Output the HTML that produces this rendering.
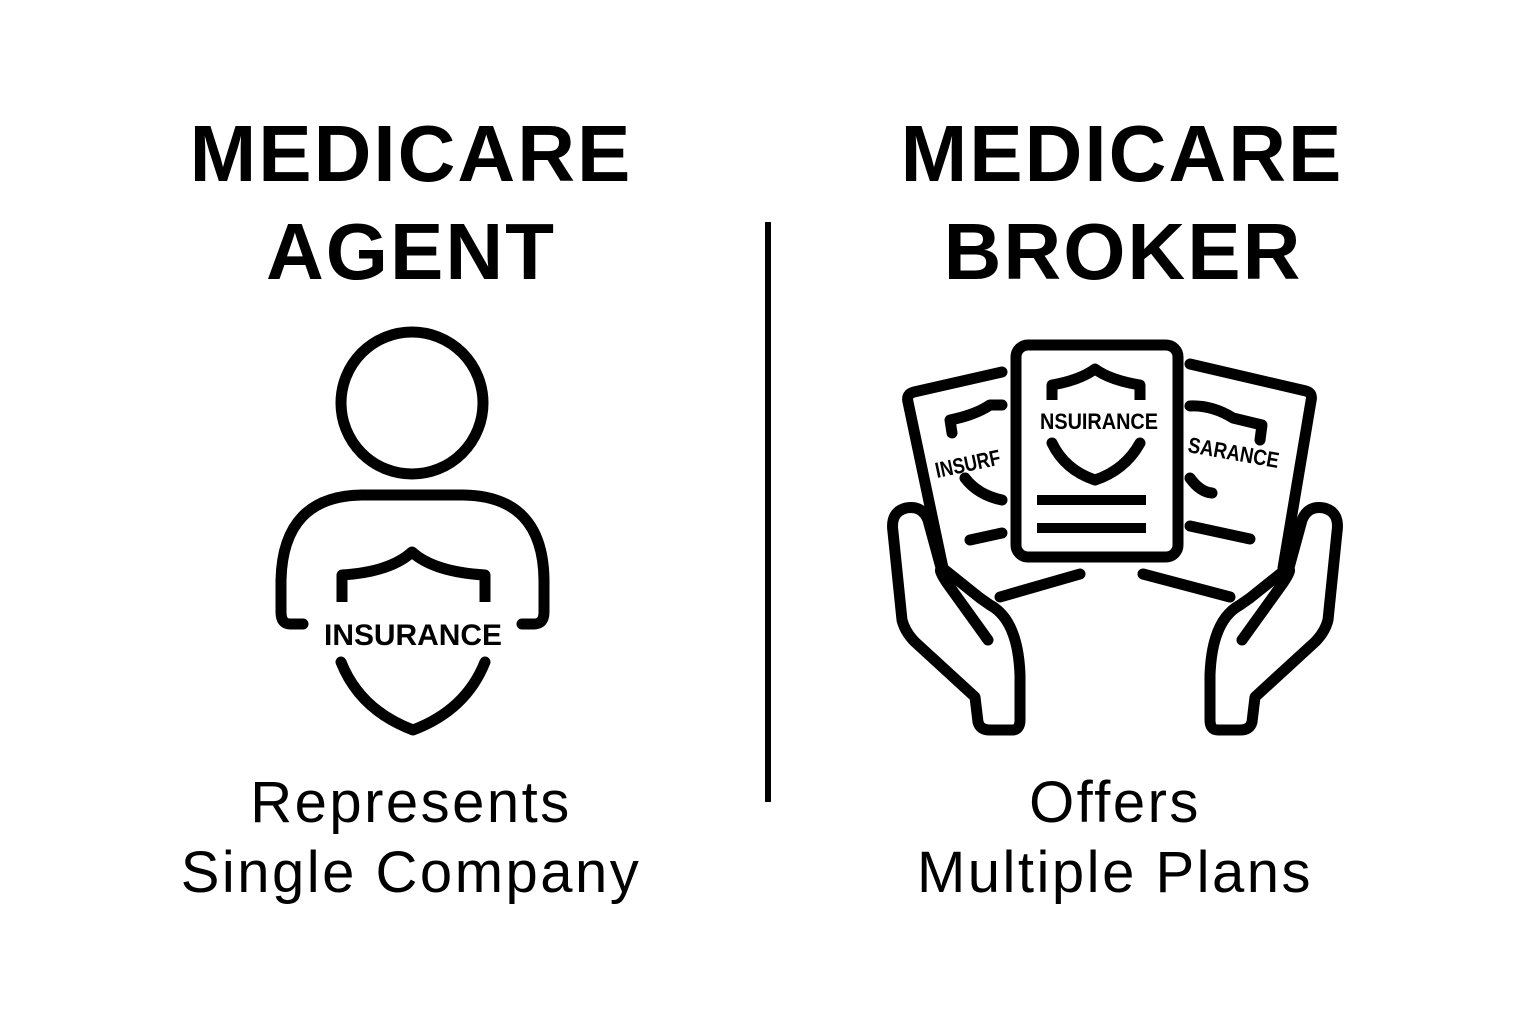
<!DOCTYPE html>
<html><head><meta charset="utf-8"><style>
html,body{margin:0;padding:0;background:#fff;}
svg{display:block;}
.h{font-family:"Liberation Sans",sans-serif;font-weight:bold;font-size:80px;fill:#000;letter-spacing:2px}
.s{font-family:"Liberation Sans",sans-serif;font-size:58px;fill:#000;letter-spacing:2.5px}
.ins{font-family:"Liberation Sans",sans-serif;font-weight:bold;fill:#000}
</style></head><body>
<svg width="1536" height="1024" viewBox="0 0 1536 1024" xmlns="http://www.w3.org/2000/svg">
<rect width="1536" height="1024" fill="#fff"/>
<text class="h" x="411" y="181" text-anchor="middle">MEDICARE</text>
<text class="h" x="411" y="279" text-anchor="middle" letter-spacing="1">AGENT</text>
<text class="h" x="1122" y="181" text-anchor="middle">MEDICARE</text>
<text class="h" x="1123" y="279" text-anchor="middle" letter-spacing="0">BROKER</text>
<rect x="765" y="222" width="6" height="580" fill="#000"/>
<text class="s" x="411" y="822" text-anchor="middle">Represents</text>
<text class="s" x="411" y="892" text-anchor="middle">Single Company</text>
<text class="s" x="1115" y="822" text-anchor="middle">Offers</text>
<text class="s" x="1115" y="892" text-anchor="middle">Multiple Plans</text>

<g fill="none" stroke="#000" stroke-width="11" stroke-linecap="round" stroke-linejoin="round">
 <!-- person -->
 <circle cx="412" cy="403" r="71"/>
 <path d="M303,624 L290,624 Q281,624 281,612 L281,580 Q283,496 362,495 L463,495 Q543,496 544,580 L544,612 Q544,624 534,624 L522,624"/>
 <path d="M342,602 L342,575 Q390,572 412,552 Q434,572 485,575 L485,602" stroke-linecap="butt"/>
 <path d="M341,662 Q360,710 413,730 Q466,710 485,662"/>
 <!-- broker docs -->
 <rect x="1016" y="345" width="162" height="212" rx="12"/>
 <path d="M1002,372 L914,392 Q906,394 908,402 L943,568"/>
 <path d="M1190,364 L1306,391 Q1313,393 1311,401 L1283,568"/>
 <path d="M1052,400 L1052,385 Q1080,380 1095,369 Q1110,380 1140,385 L1140,400" stroke-linecap="butt"/>
 <path d="M1052,443 Q1065,470 1095,480 Q1125,470 1140,443"/>
 <path d="M952,433 L950,420 Q975,415 990,405 L1002,405"/>
 <path d="M965,478 Q978,495 1002,500"/>
 <path d="M1190,406 Q1212,405 1233,418 L1262,425 L1260,440"/>
 <path d="M1190,478 Q1200,492 1212,493"/>
 <path d="M970,540 L1002,533"/>
 <path d="M1190,526 L1250,539"/>
 <!-- hands -->
 <path d="M943,575 L928,520 Q922,505 906,508 Q890,512 893,532 L902,620 Q905,632 915,642 L975,697 L978,722 Q980,730 990,730 L1012,730 Q1020,730 1020,720 L1020,675 Q1018,620 990,605 L980,598 L945,570 Q935,565 947,583 L988,640"/>
 <path d="M1000,597 L1080,574"/>
 <path d="M1287,575 L1302,520 Q1308,505 1324,508 Q1340,512 1337,532 L1328,620 Q1325,632 1315,642 L1255,697 L1252,722 Q1250,730 1240,730 L1218,730 Q1210,730 1210,720 L1210,675 Q1212,620 1240,605 L1250,598 L1285,570 Q1295,565 1283,583 L1242,640"/>
 <path d="M1230,597 L1143,574"/>
</g>
<rect x="1037" y="495" width="109" height="10" fill="#000"/>
<rect x="1037" y="523" width="109" height="10" fill="#000"/>
<text class="ins" x="413" y="645" text-anchor="middle" font-size="30" textLength="178" lengthAdjust="spacingAndGlyphs">INSURANCE</text>
<text class="ins" x="1099" y="429" text-anchor="middle" font-size="22" textLength="118" lengthAdjust="spacingAndGlyphs">NSUIRANCE</text>
<text class="ins" x="0" y="0" font-size="22" transform="translate(937,478) rotate(-12)" textLength="66" lengthAdjust="spacingAndGlyphs">INSURF</text>
<text class="ins" x="0" y="0" font-size="22" transform="translate(1187,452) rotate(10)" textLength="92" lengthAdjust="spacingAndGlyphs">SARANCE</text>
</svg>
</body></html>
